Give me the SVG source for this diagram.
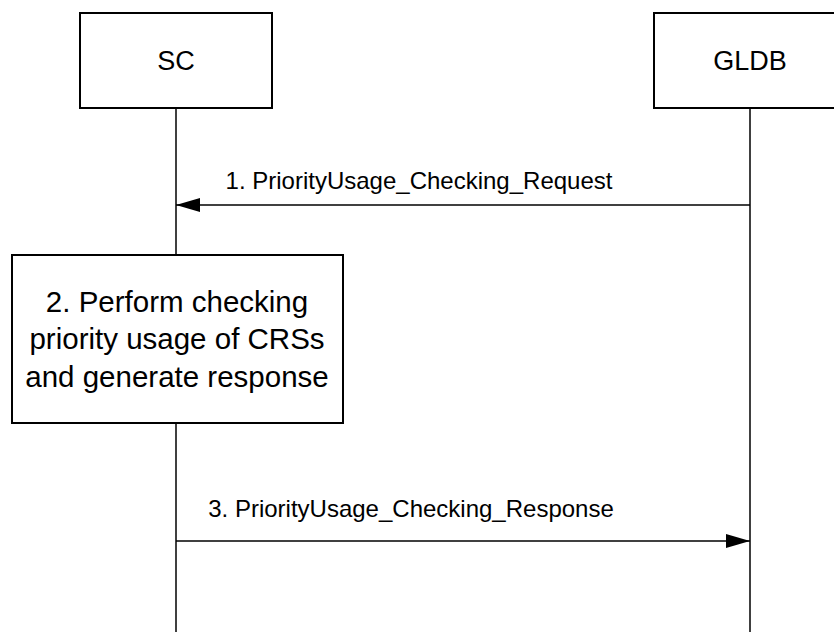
<svg xmlns="http://www.w3.org/2000/svg" width="834" height="632" viewBox="0 0 834 632">
<defs>
<style>
.box{fill:#fff;stroke:#000;stroke-width:2}
.life{stroke:#000;stroke-width:1.5;fill:none}
.msg{stroke:#000;stroke-width:1.5;fill:none}
text{font-family:"Liberation Sans",Arial,sans-serif;fill:#000;text-anchor:middle}
.lbl{font-size:27px}
.act{font-size:29.5px}
.ml{font-size:24px}
</style>
<marker id="ah" markerWidth="24" markerHeight="14" refX="24" refY="7" orient="auto" markerUnits="userSpaceOnUse">
<path d="M0,0 L24,7 L0,14 Z" fill="#000"/>
</marker>
</defs>
<rect width="834" height="632" fill="#fff"/>
<g id="lifelines">
<line class="life" x1="176" y1="108" x2="176" y2="255"/>
<line class="life" x1="176" y1="423" x2="176" y2="632"/>
<line class="life" x1="750" y1="108" x2="750" y2="632"/>
</g>
<g id="SC">
<rect class="box" x="80" y="13" width="192" height="95"/>
<text class="lbl" x="176" y="70">SC</text>
</g>
<g id="GLDB">
<rect class="box" x="654" y="13" width="200" height="95"/>
<text class="lbl" x="750" y="70">GLDB</text>
</g>
<g id="step2">
<rect class="box" x="12" y="255" width="331" height="168"/>
<text class="act" x="177" y="312">2. Perform checking</text>
<text class="act" x="177" y="349">priority usage of CRSs</text>
<text class="act" x="177" y="387">and generate response</text>
</g>
<g id="connectors">
<line class="msg" x1="750" y1="205" x2="176" y2="205" marker-end="url(#ah)"/>
<text class="ml" x="419" y="189">1. PriorityUsage_Checking_Request</text>
<line class="msg" x1="176" y1="541" x2="750" y2="541" marker-end="url(#ah)"/>
<text class="ml" x="411" y="517">3. PriorityUsage_Checking_Response</text>
</g>
</svg>
